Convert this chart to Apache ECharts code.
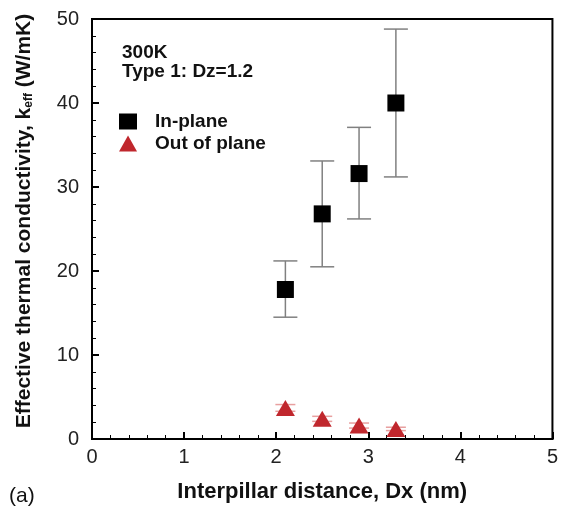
<!DOCTYPE html>
<html>
<head>
<meta charset="utf-8">
<script src="https://cdn.jsdelivr.net/npm/echarts@6/dist/echarts.min.js"></script>
<style>
html, body { margin: 0; padding: 0; background: #fff; }
#main { width: 561px; height: 508px; }
</style>
</head>
<body>
<div id="main"></div>
<script>
// values
var dx = [2.1, 2.5, 2.9, 3.3];
var inPlane = [17.8, 26.8, 31.6, 40.0];
var inPlaneLow = [14.5, 20.5, 26.2, 31.2];
var inPlaneHigh = [21.2, 33.1, 37.1, 48.8];
var outPlane = [3.7, 2.4, 1.6, 1.2];
var outPlaneLow = [3.3, 2.1, 1.3, 1.0];
var outPlaneHigh = [4.1, 2.7, 1.9, 1.4];

var FONT = 'Liberation Sans, Arial, sans-serif';

function pairs(xs, ys) {
    return xs.map(function (x, i) { return [x, ys[i]]; });
}
function errData(xs, lo, hi) {
    return xs.map(function (x, i) { return [x, lo[i], hi[i]]; });
}
function errRender(color, cap) {
    return function (params, api) {
        var top = api.coord([api.value(0), api.value(2)]);
        var bot = api.coord([api.value(0), api.value(1)]);
        var st = { stroke: color, lineWidth: 1.5 };
        return {
            type: 'group',
            children: [
                { type: 'line', shape: { x1: top[0], y1: top[1], x2: bot[0], y2: bot[1] }, style: st },
                { type: 'line', shape: { x1: top[0] - cap, y1: top[1], x2: top[0] + cap, y2: top[1] }, style: st },
                { type: 'line', shape: { x1: bot[0] - cap, y1: bot[1], x2: bot[0] + cap, y2: bot[1] }, style: st }
            ]
        };
    };
}

var chart = echarts.init(document.getElementById('main'));
chart.setOption({
    animation: false,
    grid: { left: 92, right: 5, top: 19, bottom: 68, show: true, borderColor: '#000', borderWidth: 2 },
    title: [
        { text: '300K', left: 117, top: 38, textStyle: { fontFamily: FONT, fontSize: 19, fontWeight: 'bold', color: '#111' } },
        { text: 'Type 1: Dz=1.2', left: 117, top: 57, textStyle: { fontFamily: FONT, fontSize: 19, fontWeight: 'bold', color: '#111' } },
        { text: '(a)', left: 4, top: 481, textStyle: { fontFamily: FONT, fontSize: 21, fontWeight: 'normal', color: '#111' } }
    ],
    legend: {
        orient: 'vertical',
        left: 114,
        top: 107,
        itemGap: 3,
        itemWidth: 18,
        itemHeight: 16,
        textStyle: { fontFamily: FONT, fontSize: 19, fontWeight: 'bold', color: '#111', padding: [0, 0, 0, 13] },
        data: [
            { name: 'In-plane', icon: 'rect' },
            { name: 'Out of plane', icon: 'triangle' }
        ]
    },
    xAxis: {
        type: 'value',
        min: 0, max: 5, interval: 1,
        name: 'Interpillar distance, Dx (nm)',
        nameLocation: 'middle',
        nameGap: 42,
        nameTextStyle: { fontFamily: FONT, fontSize: 22, fontWeight: 'bold', color: '#111' },
        axisLine: { lineStyle: { color: '#000', width: 2 } },
        axisTick: { inside: true, length: 7, lineStyle: { color: '#000', width: 2 } },
        minorTick: { show: true, splitNumber: 5, length: 4, lineStyle: { color: '#000', width: 1 } },
        splitLine: { show: false },
        axisLabel: { fontFamily: FONT, fontSize: 20, color: '#222', margin: 8 }
    },
    yAxis: {
        type: 'value',
        min: 0, max: 50, interval: 10,
        name: '{a|Effective thermal conductivity, k}{s|eff}{a| (W/mK)}',
        nameLocation: 'middle',
        nameGap: 57,
        nameTextStyle: {
            padding: [0, 0, 0, 16],
            rich: {
                a: { fontFamily: FONT, fontSize: 21, fontWeight: 'bold', color: '#111' },
                s: { fontFamily: FONT, fontSize: 12, fontWeight: 'bold', color: '#111', verticalAlign: 'bottom', padding: [10, 0, 0, 0] }
            }
        },
        axisLine: { lineStyle: { color: '#000', width: 2 } },
        axisTick: { inside: true, length: 7, lineStyle: { color: '#000', width: 2 } },
        minorTick: { show: true, splitNumber: 5, length: 4, lineStyle: { color: '#000', width: 1 } },
        splitLine: { show: false },
        axisLabel: { fontFamily: FONT, fontSize: 20, color: '#222', margin: 13 }
    },
    series: [
        {
            type: 'custom',
            name: 'errIn',
            renderItem: errRender('#808080', 12),
            data: errData(dx, inPlaneLow, inPlaneHigh),
            z: 1
        },
        {
            type: 'custom',
            name: 'errOut',
            renderItem: errRender('#e8a0a0', 10),
            data: errData(dx, outPlaneLow, outPlaneHigh),
            z: 1
        },
        {
            type: 'scatter',
            name: 'In-plane',
            symbol: 'rect',
            symbolSize: 17,
            itemStyle: { color: '#000', opacity: 1 },
            data: pairs(dx, inPlane),
            z: 3
        },
        {
            type: 'scatter',
            name: 'Out of plane',
            symbol: 'triangle',
            symbolSize: [19, 16],
            itemStyle: { color: '#c0272d', opacity: 1 },
            data: pairs(dx, outPlane),
            z: 3
        }
    ]
});
</script>
</body>
</html>
